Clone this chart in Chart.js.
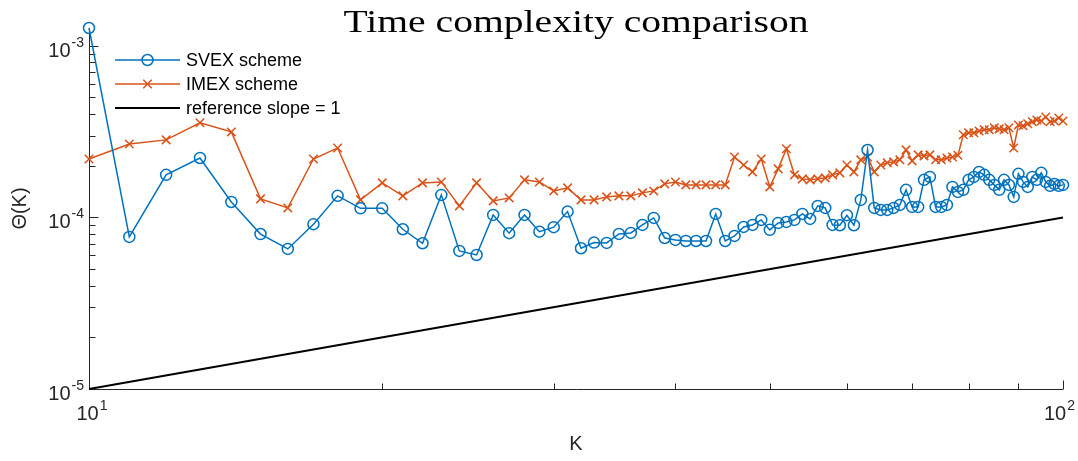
<!DOCTYPE html>
<html>
<head>
<meta charset="utf-8">
<script src="https://cdn.jsdelivr.net/npm/chart.js@4.4.1/dist/chart.umd.min.js"></script>
<style>
html, body { margin: 0; padding: 0; background: #fff; }
</style>
</head>
<body>
<canvas id="complexity_chart" width="1078" height="461"></canvas>
<script>
// data (K = 10..100)
const kValues = [
    10, 11, 12, 13, 14, 15, 16, 17, 18, 19,
    20, 21, 22, 23, 24, 25, 26, 27, 28, 29,
    30, 31, 32, 33, 34, 35, 36, 37, 38, 39,
    40, 41, 42, 43, 44, 45, 46, 47, 48, 49,
    50, 51, 52, 53, 54, 55, 56, 57, 58, 59,
    60, 61, 62, 63, 64, 65, 66, 67, 68, 69,
    70, 71, 72, 73, 74, 75, 76, 77, 78, 79,
    80, 81, 82, 83, 84, 85, 86, 87, 88, 89,
    90, 91, 92, 93, 94, 95, 96, 97, 98, 99,
    100,
];
const svexTimes = [
    1.27e-3, 7.7e-5, 1.77e-4, 2.22e-4, 1.23e-4, 8.0e-5, 6.55e-5, 9.13e-5, 1.335e-4, 1.13e-4,
    1.13e-4, 8.53e-5, 7.07e-5, 1.353e-4, 6.38e-5, 6.04e-5, 1.034e-4, 8.09e-5, 1.034e-4, 8.26e-5,
    8.77e-5, 1.081e-4, 6.61e-5, 7.13e-5, 7.1e-5, 8.01e-5, 8.12e-5, 9.04e-5, 9.93e-5, 7.59e-5,
    7.39e-5, 7.29e-5, 7.29e-5, 7.29e-5, 1.048e-4, 7.29e-5, 7.8e-5, 8.8e-5, 9.04e-5, 9.67e-5,
    8.46e-5, 9.29e-5, 9.41e-5, 9.67e-5, 1.048e-4, 9.8e-5, 1.167e-4, 1.136e-4, 9.04e-5, 9.0e-5,
    1.03e-4, 9.0e-5, 1.265e-4, 2.47e-4, 1.136e-4, 1.106e-4, 1.106e-4, 1.136e-4, 1.183e-4, 1.447e-4,
    1.151e-4, 1.151e-4, 1.655e-4, 1.722e-4, 1.151e-4, 1.151e-4, 1.183e-4, 1.506e-4, 1.408e-4, 1.447e-4,
    1.655e-4, 1.722e-4, 1.842e-4, 1.77e-4, 1.655e-4, 1.547e-4, 1.447e-4, 1.655e-4, 1.547e-4, 1.317e-4,
    1.794e-4, 1.61e-4, 1.506e-4, 1.722e-4, 1.655e-4, 1.818e-4, 1.61e-4, 1.527e-4, 1.568e-4, 1.527e-4,
    1.547e-4,
];
const imexTimes = [
    2.19e-4, 2.68e-4, 2.83e-4, 3.56e-4, 3.15e-4, 1.282e-4, 1.136e-4, 2.19e-4, 2.54e-4, 1.265e-4,
    1.589e-4, 1.335e-4, 1.589e-4, 1.61e-4, 1.167e-4, 1.589e-4, 1.248e-4, 1.299e-4, 1.655e-4, 1.61e-4,
    1.427e-4, 1.486e-4, 1.265e-4, 1.265e-4, 1.317e-4, 1.335e-4, 1.335e-4, 1.39e-4, 1.427e-4, 1.568e-4,
    1.61e-4, 1.547e-4, 1.547e-4, 1.547e-4, 1.547e-4, 1.547e-4, 2.25e-4, 2.02e-4, 1.842e-4, 2.19e-4,
    1.506e-4, 1.918e-4, 2.51e-4, 1.77e-4, 1.677e-4, 1.655e-4, 1.677e-4, 1.7e-4, 1.77e-4, 1.818e-4,
    2.02e-4, 1.842e-4, 2.165e-4, 2.25e-4, 1.842e-4, 2.02e-4, 2.08e-4, 2.107e-4, 2.165e-4, 2.475e-4,
    2.135e-4, 2.314e-4, 2.284e-4, 2.314e-4, 2.165e-4, 2.165e-4, 2.22e-4, 2.25e-4, 2.3e-4, 3.03e-4,
    3.11e-4, 3.11e-4, 3.19e-4, 3.24e-4, 3.24e-4, 3.33e-4, 3.28e-4, 3.24e-4, 3.33e-4, 2.54e-4,
    3.46e-4, 3.42e-4, 3.51e-4, 3.61e-4, 3.7e-4, 3.65e-4, 3.85e-4, 3.61e-4, 3.65e-4, 3.8e-4,
    3.65e-4,
];
const refK = [10, 100];
const refTimes = [1e-5, 1e-4];

// axis ticks
const xMajorPowers = [1, 2];
const xMinorTicks = [20, 30, 40, 50, 60, 70, 80, 90];
const yMajorPowers = [-5, -4, -3];
const yMinorTicks = [
    2e-5, 3e-5, 4e-5, 5e-5, 6e-5, 7e-5, 8e-5, 9e-5,
    2e-4, 3e-4, 4e-4, 5e-4, 6e-4, 7e-4, 8e-4, 9e-4,
];

const titleText = "Time complexity comparison";
const axisColor = "#262626";
const sansFont = "'Liberation Sans', Arial, sans-serif";

function toPoints(xs, ys) {
    return xs.map((x, i) => ({ x: x, y: ys[i] }));
}

// "10" with a raised exponent, anchored at (x, y) baseline
function drawPower(ctx, exp, x, y, align, maxRight) {
    ctx.font = "20px " + sansFont;
    const baseW = ctx.measureText("10").width;
    ctx.font = "14px " + sansFont;
    const expText = String(exp);
    const expW = ctx.measureText(expText).width;
    const total = baseW + expW + 1;
    let left = x;
    if (align === "right") left = x - total;
    if (align === "center") left = x - total / 2;
    if (maxRight && left + total > maxRight) left = maxRight - total;
    ctx.textAlign = "left";
    ctx.textBaseline = "alphabetic";
    ctx.font = "20px " + sansFont;
    ctx.fillText("10", left, y);
    ctx.font = "14px " + sansFont;
    ctx.fillText(expText, left + baseW + 1, y - 10);
}

const matlabAxes = {
    id: "matlabAxes",
    beforeDatasetsDraw(chart) {
        const ctx = chart.ctx;
        const area = chart.chartArea;
        const xs = chart.scales.x;
        const ys = chart.scales.y;
        const x0 = Math.round(area.left) + 0.5;
        const y0 = Math.round(area.bottom) + 0.5;
        ctx.save();
        ctx.strokeStyle = axisColor;
        ctx.lineWidth = 1;
        ctx.beginPath();
        ctx.moveTo(x0, area.top);
        ctx.lineTo(x0, y0);
        ctx.lineTo(area.right, y0);
        ctx.stroke();

        ctx.beginPath();
        xMajorPowers.forEach((p) => {
            const px = Math.round(xs.getPixelForValue(Math.pow(10, p))) + 0.5;
            ctx.moveTo(px, y0);
            ctx.lineTo(px, y0 - 9);
        });
        xMinorTicks.forEach((v) => {
            const px = Math.round(xs.getPixelForValue(v)) + 0.5;
            ctx.moveTo(px, y0);
            ctx.lineTo(px, y0 - 6);
        });
        yMajorPowers.forEach((p) => {
            const py = Math.round(ys.getPixelForValue(Math.pow(10, p))) + 0.5;
            ctx.moveTo(x0, py);
            ctx.lineTo(x0 + 9, py);
        });
        yMinorTicks.forEach((v) => {
            const py = Math.round(ys.getPixelForValue(v)) + 0.5;
            ctx.moveTo(x0, py);
            ctx.lineTo(x0 + 6, py);
        });
        ctx.stroke();

        ctx.fillStyle = axisColor;
        yMajorPowers.forEach((p) => {
            const py = ys.getPixelForValue(Math.pow(10, p));
            drawPower(ctx, p, area.left - 5, py + 11, "right");
        });
        xMajorPowers.forEach((p) => {
            const px = xs.getPixelForValue(Math.pow(10, p));
            drawPower(ctx, p, px + 3, area.bottom + 31, "center", chart.width - 3);
        });

        // axis titles
        ctx.font = "20px " + sansFont;
        ctx.textAlign = "center";
        ctx.textBaseline = "middle";
        ctx.fillText("K", (area.left + area.right) / 2, area.bottom + 55);
        ctx.save();
        ctx.translate(20, (area.top + area.bottom) / 2);
        ctx.rotate(-Math.PI / 2);
        ctx.fillText("\u0398(K)", 0, 0);
        ctx.restore();

        // title
        ctx.fillStyle = "#000";
        ctx.font = "32px 'Liberation Serif', 'DejaVu Serif', serif";
        ctx.textAlign = "center";
        ctx.textBaseline = "alphabetic";
        const tw = ctx.measureText(titleText).width;
        const cx = (area.left + area.right) / 2;
        ctx.save();
        ctx.translate(cx, 32);
        ctx.scale(465 / tw, 1);
        ctx.fillText(titleText, 0, 0);
        ctx.restore();
        ctx.restore();
    },
    afterDraw(chart) {
        // legend, top-left inside the axes
        const ctx = chart.ctx;
        const area = chart.chartArea;
        ctx.save();
        chart.data.datasets.forEach((ds, i) => {
            const y = area.top + 32 + i * 24;
            const lx = area.left + 26;
            ctx.strokeStyle = ds.borderColor;
            ctx.lineWidth = ds.borderWidth;
            ctx.beginPath();
            ctx.moveTo(lx, y);
            ctx.lineTo(lx + 65, y);
            ctx.stroke();
            if (ds.pointRadius > 0) {
                ctx.lineWidth = ds.pointBorderWidth;
                ctx.fillStyle = "rgba(0,0,0,0)";
                Chart.helpers.drawPoint(ctx, {
                    pointStyle: ds.pointStyle,
                    radius: ds.pointRadius,
                    borderWidth: ds.pointBorderWidth,
                    rotation: 0,
                }, lx + 32.5, y);
            }
            ctx.fillStyle = "#000";
            ctx.font = "18px " + sansFont;
            ctx.textAlign = "left";
            ctx.textBaseline = "middle";
            ctx.fillText(ds.label, lx + 71, y + 1);
        });
        ctx.restore();
    },
};

const complexity_chart = document.getElementById("complexity_chart");
new Chart(complexity_chart, {
    type: "line",
    data: {
        datasets: [
            {
                label: "SVEX scheme",
                data: toPoints(kValues, svexTimes),
                borderColor: "rgb(0, 114, 189)",
                borderWidth: 1.5,
                pointStyle: "circle",
                pointRadius: 5.5,
                pointBorderWidth: 1.5,
                pointBackgroundColor: "rgba(0, 0, 0, 0)",
                pointBorderColor: "rgb(0, 114, 189)",
                tension: 0,
                clip: false,
            },
            {
                label: "IMEX scheme",
                data: toPoints(kValues, imexTimes),
                borderColor: "rgb(217, 83, 25)",
                borderWidth: 1.5,
                pointStyle: "crossRot",
                pointRadius: 6,
                pointBorderWidth: 1.5,
                pointBackgroundColor: "rgba(0, 0, 0, 0)",
                pointBorderColor: "rgb(217, 83, 25)",
                tension: 0,
                clip: false,
            },
            {
                label: "reference slope = 1",
                data: toPoints(refK, refTimes),
                borderColor: "#000",
                borderWidth: 2,
                pointRadius: 0,
                tension: 0,
                clip: false,
            },
        ],
    },
    options: {
        responsive: false,
        animation: false,
        devicePixelRatio: 1,
        layout: {
            padding: { left: 89, right: 15, top: 28, bottom: 72 },
        },
        plugins: {
            legend: { display: false },
            tooltip: { enabled: false },
        },
        scales: {
            x: { type: "logarithmic", min: 10, max: 100, display: false },
            y: { type: "logarithmic", min: 1e-5, max: 1.27e-3, display: false },
        },
    },
    plugins: [matlabAxes],
});
</script>
</body>
</html>
